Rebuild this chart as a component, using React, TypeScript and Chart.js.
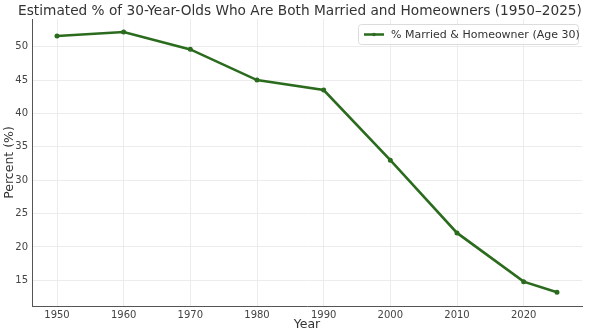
import React, { useEffect, useRef } from "react";
import { Chart, registerables } from "chart.js";

Chart.register(...registerables);

const years = [1950, 1960, 1970, 1980, 1990, 2000, 2010, 2020, 2025];
const percent = [51.6, 52.2, 49.6, 45.0, 43.5, 33.0, 22.1, 14.8, 13.2];
const xTicks = [1950, 1960, 1970, 1980, 1990, 2000, 2010, 2020];
const yTicks = [15, 20, 25, 30, 35, 40, 45, 50];
const titleText = "Estimated % of 30-Year-Olds Who Are Both Married and Homeowners (1950–2025)";
const seriesLabel = "% Married & Homeowner (Age 30)";
const xTitle = "Year";
const yTitle = "Percent (%)";

const FONT = "'DejaVu Sans', sans-serif";
const LINE = "#2a6b1d";

const overlay = {
  id: "overlay",
  afterDraw(chart: any) {
    const ctx = chart.ctx;
    const area = chart.chartArea;
    ctx.save();
    // title
    ctx.fillStyle = "#333";
    ctx.font = `13.7px ${FONT}`;
    ctx.textAlign = "center";
    ctx.textBaseline = "middle";
    ctx.fillText(titleText, 300, 11);
    // axis titles
    ctx.font = `12.5px ${FONT}`;
    ctx.fillStyle = "#333";
    ctx.fillText(xTitle, (area.left + area.right) / 2, 325);
    ctx.save();
    ctx.translate(10, (area.top + area.bottom) / 2);
    ctx.rotate(-Math.PI / 2);
    ctx.fillText(yTitle, 0, 0);
    ctx.restore();
    // legend
    const bx = 358, by = 24, bw = 220, bh = 20;
    ctx.fillStyle = "rgba(255,255,255,0.9)";
    ctx.strokeStyle = "#dcdcdc";
    ctx.lineWidth = 1;
    ctx.beginPath();
    (ctx as any).roundRect(bx + 0.5, by + 0.5, bw, bh, 3);
    ctx.fill();
    ctx.stroke();
    ctx.strokeStyle = LINE;
    ctx.lineWidth = 2.5;
    ctx.beginPath();
    ctx.moveTo(bx + 6, by + 10.5);
    ctx.lineTo(bx + 26, by + 10.5);
    ctx.stroke();
    ctx.fillStyle = LINE;
    ctx.beginPath();
    ctx.arc(bx + 16, by + 10.5, 1.8, 0, Math.PI * 2);
    ctx.fill();
    ctx.fillStyle = "#333";
    ctx.font = `11px ${FONT}`;
    ctx.textAlign = "left";
    ctx.fillText(seriesLabel, bx + 33, by + 11);
    ctx.restore();
  },
};

export default function App() {
  const ref = useRef<HTMLCanvasElement>(null);
  useEffect(() => {
    document.body.style.margin = "0";
    const chart = new Chart(ref.current!, {
      type: "line",
      data: {
        datasets: [
          {
            label: seriesLabel,
            data: years.map((y, i) => ({ x: y, y: percent[i] })),
            borderColor: LINE,
            backgroundColor: LINE,
            borderWidth: 2.6,
            pointRadius: 1.2,
            pointHoverRadius: 1.2,
            tension: 0,
          },
        ],
      },
      options: {
        animation: false,
        responsive: false,
        maintainAspectRatio: false,
        layout: { padding: { top: 19, right: 18, left: 0, bottom: 0 } },
        plugins: { legend: { display: false }, title: { display: false }, tooltip: { enabled: false } },
        scales: {
          x: {
            type: "linear",
            min: 1946.25,
            max: 2028.75,
            afterBuildTicks: (s: any) => {
              s.ticks = xTicks.map((v) => ({ value: v }));
            },
            afterFit: (s: any) => {
              s.height = 29;
            },
            ticks: {
              autoSkip: false,
              maxRotation: 0,
              color: "#444",
              font: { family: FONT, size: 10 },
              padding: 3,
              callback: (v: any) => String(v),
            },
            grid: { color: "#ececec", lineWidth: 1, drawTicks: false },
            border: { display: true, color: "#555", width: 1 },
          },
          y: {
            type: "linear",
            min: 11.15,
            max: 54.15,
            afterBuildTicks: (s: any) => {
              s.ticks = yTicks.map((v) => ({ value: v }));
            },
            afterFit: (s: any) => {
              s.width = 32;
            },
            ticks: {
              color: "#444",
              font: { family: FONT, size: 10 },
              padding: 4,
              callback: (v: any) => String(v),
            },
            grid: { color: "#ececec", lineWidth: 1, drawTicks: false },
            border: { display: true, color: "#555", width: 1 },
          },
        },
      },
      plugins: [overlay],
    });
    return () => chart.destroy();
  }, []);
  return <canvas ref={ref} width={600} height={335} style={{ display: "block" }} />;
}
